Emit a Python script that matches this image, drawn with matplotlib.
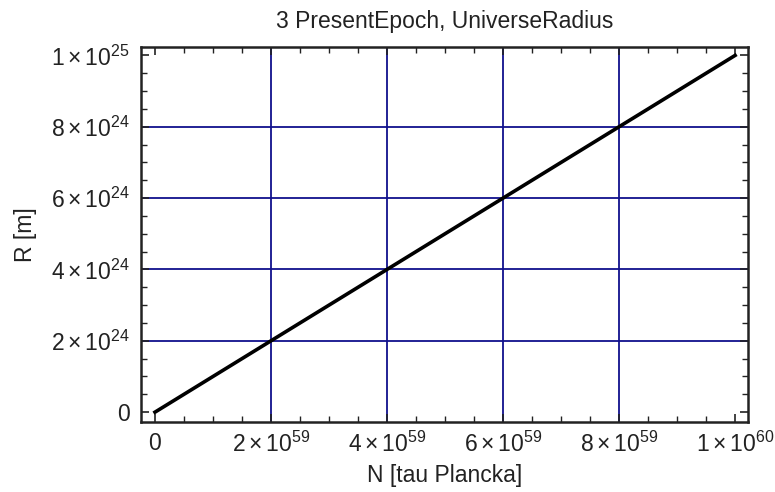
import numpy as np
import matplotlib
matplotlib.use("Agg")
import matplotlib.pyplot as plt
from matplotlib.ticker import MultipleLocator, FixedLocator

plt.rcParams['font.family'] = ['Liberation Sans', 'DejaVu Sans']
plt.rcParams['mathtext.fontset'] = 'custom'
plt.rcParams['mathtext.rm'] = 'Liberation Sans'
plt.rcParams['mathtext.it'] = 'Liberation Sans'

# data
N = [0, 2e59, 4e59, 6e59, 8e59, 1e60]
R = [0, 2e24, 4e24, 6e24, 8e24, 1e25]

x_ticks = [0, 2e59, 4e59, 6e59, 8e59, 1e60]
x_labels = ['0', r'$2\times10^{59}$', r'$4\times10^{59}$', r'$6\times10^{59}$',
            r'$8\times10^{59}$', r'$1\times10^{60}$']
y_ticks = [0, 2e24, 4e24, 6e24, 8e24, 1e25]
y_labels = ['0', r'$2\times10^{24}$', r'$4\times10^{24}$', r'$6\times10^{24}$',
            r'$8\times10^{24}$', r'$1\times10^{25}$']
grid_x = [2e59, 4e59, 6e59, 8e59]
grid_y = [2e24, 4e24, 6e24, 8e24]

fig = plt.figure(figsize=(7.75, 4.92), dpi=100)
ax = fig.add_axes([0.182, 0.142, 0.783, 0.7625])

for gx in grid_x:
    ax.axvline(gx, color='#10108c', linewidth=1.3, zorder=1)
for gy in grid_y:
    ax.axhline(gy, color='#10108c', linewidth=1.3, zorder=1)

ax.plot(N, R, color='black', linewidth=2.6, zorder=3)

ax.set_xlim(-0.024e60, 1.022e60)
ax.set_ylim(-0.028e25, 1.0236e25)

ax.xaxis.set_major_locator(FixedLocator(x_ticks))
ax.yaxis.set_major_locator(FixedLocator(y_ticks))
ax.set_xticklabels(x_labels)
ax.set_yticklabels(y_labels)
ax.xaxis.set_minor_locator(MultipleLocator(0.5e59))
ax.yaxis.set_minor_locator(MultipleLocator(0.5e24))

ax.tick_params(which='both', direction='in', top=True, right=True,
               color='#222222', labelsize=16.5, labelcolor='#222222')
ax.tick_params(which='major', length=6, width=1.2)
ax.tick_params(which='minor', length=4, width=1.0)
ax.tick_params(axis='x', pad=7)
ax.tick_params(axis='y', pad=8)

for s in ax.spines.values():
    s.set_color('#222222')
    s.set_linewidth(1.8)

ax.set_title('3 PresentEpoch, UniverseRadius', fontsize=16.5, color='#222222', pad=14)
ax.set_xlabel('N [tau Plancka]', fontsize=16.5, color='#222222', labelpad=5)
ax.set_ylabel('R [m]', fontsize=16.5, color='#222222', labelpad=10)

fig.savefig('out.png', dpi=100)
